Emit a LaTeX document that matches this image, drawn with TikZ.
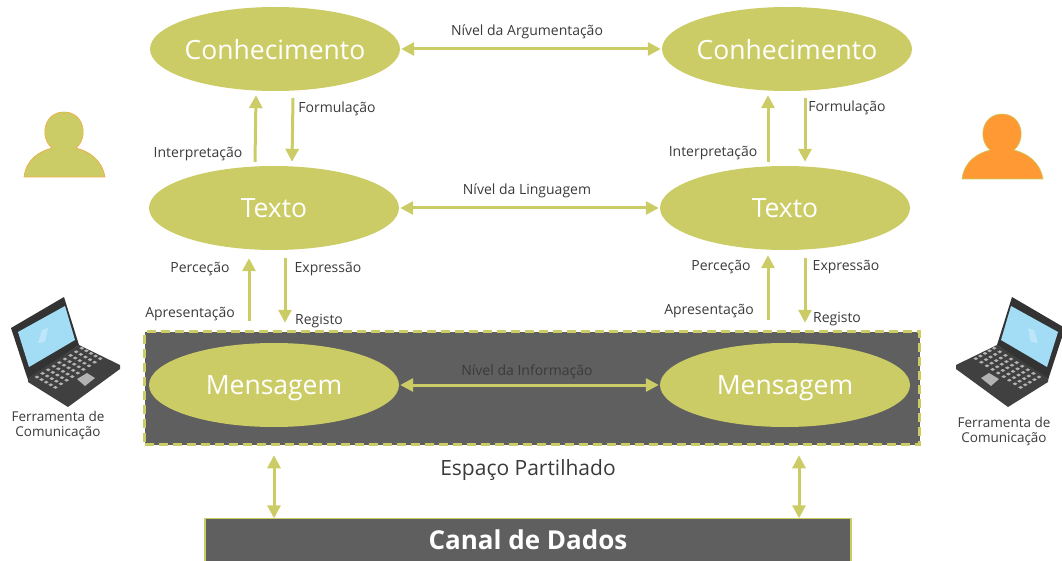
\documentclass[tikz,border=0pt]{standalone}
\usepackage{fontspec}
\setmainfont{Open Sans}
\usepackage{tikz}
\usetikzlibrary{arrows.meta, positioning, shapes.geometric}

\definecolor{oliva}{HTML}{CCCC66}
\definecolor{cinza}{HTML}{5F5F5F}
\definecolor{texto}{HTML}{3A3A3A}
\definecolor{laranja}{HTML}{FF9933}
\definecolor{ecra}{HTML}{A3DCF5}

\tikzset{
    nivel/.style={ellipse, fill=oliva, text=white, minimum width=250pt, minimum height=84pt, inner sep=-12pt, text depth=0pt, font=\fontsize{26.5}{26.5}\selectfont},
    etiqueta/.style={text=texto, inner sep=0pt, align=center, yshift=-1.5pt, font=\fontsize{14}{16}\selectfont},
    seta/.style={draw=oliva, line width=3pt, -{Triangle[length=13pt,width=13pt]}},
    setadupla/.style={draw=oliva, line width=3pt, {Triangle[length=13pt,width=13pt]}-{Triangle[length=13pt,width=13pt]}},
    tecla/.style={fill=black!30},
    pessoa/.pic={
        \path[pic actions] (-40,45) .. controls (-38,27) and (-24,19) .. (-12,16) .. controls (-25,5) and (-20,-20) .. (0,-20)
            .. controls (20,-20) and (25,5) .. (12,16) .. controls (24,19) and (38,27) .. (41,45) -- cycle;
    },
    portatil/.pic={
        \fill[black!80] (11,328) -- (64,297) -- (79,345) -- (28,380) -- cycle;
        \fill[ecra] (18,332) -- (65,306) -- (75,340) -- (29,367) -- cycle;
        \fill[white, opacity=.3] (42,330) -- (48,328) -- (45,342) -- (38,343) -- cycle;
        \fill[black!75] (28,378) -- (79,345) -- (120,365) -- (120,369) -- (68,407) -- (28,382) -- cycle;
        \foreach \i in {0,...,8}
            \foreach \j in {0,...,4}
                \fill[tecla] ({37+5.6*\i+4.6*\j},{377-3.6*\i+2.6*\j}) ++(-2.4,0) -- ++(2.4,-1.5) -- ++(2.4,1.5) -- ++(-2.4,1.5) -- cycle;
        \fill[tecla] (77,379) -- (87,373) -- (95,378) -- (85,386) -- cycle;
    },
}

\begin{document}
\begin{tikzpicture}[x=1pt, y=-1pt]
        \useasboundingbox (0,0) rectangle (1062,561);

        % areas de fundo
        \node[fill=cinza, draw=oliva, dash pattern=on 9pt off 5pt, line width=3.5pt, minimum width=775pt, minimum height=113pt, inner sep=0pt] (espaco) at (532,388) {};
        \node[fill=cinza, minimum width=646pt, minimum height=42pt, inner sep=0pt, text=white, font=\fontsize{26}{26}\selectfont\bfseries] (canal) at (528,539.5) {Canal de Dados};
        \draw[oliva, line width=1.5pt] (canal.south west) |- (canal.north east) -- (canal.south east);

        % os tres niveis
        \node[nivel] (conhecimento1) at (275,49) {Conhecimento};
        \node[nivel] (conhecimento2) at (787,49) {Conhecimento};
        \node[nivel] (texto1) at (274,208) {Texto};
        \node[nivel] (texto2) at (785,208) {Texto};
        \node[nivel] (mensagem1) at (274,385) {Mensagem};
        \node[nivel] (mensagem2) at (785,385) {Mensagem};

        \draw
        (conhecimento1) edge[setadupla, shorten >=1pt, shorten <=1pt] (conhecimento2)
        (texto1) edge[setadupla, shorten >=1pt, shorten <=1pt] (texto2)
        (mensagem1) edge[setadupla, shorten >=1pt, shorten <=1pt] (mensagem2)
        ([shift={(-19,-4)}]texto1.north) edge[seta] ([shift={(-19,4)}]conhecimento1.south)
        ([shift={(18,7)}]conhecimento1.south) edge[seta] ([shift={(18,-4)}]texto1.north)
        ([shift={(-17,-4)}]texto2.north) edge[seta] ([shift={(-19,4)}]conhecimento2.south)
        ([shift={(18,7)}]conhecimento2.south) edge[seta] ([shift={(20,-4)}]texto2.north)
        ([shift={(-25,-9)}]espaco.north -| mensagem1.north) edge[seta] ([shift={(-25,8)}]texto1.south)
        ([shift={(11,8)}]texto1.south) edge[seta] ([shift={(11,-7)}]espaco.north -| mensagem1.north)
        ([shift={(-17,-10)}]espaco.north -| mensagem2.north) edge[seta] ([shift={(-17,5)}]texto2.south)
        ([shift={(20,8)}]texto2.south) edge[seta] ([shift={(20,-7)}]espaco.north -| mensagem2.north)
        ([shift={(0,9)}]espaco.south -| mensagem1.south) edge[setadupla] (canal.north -| mensagem1.south)
        ([shift={(14,9)}]espaco.south -| mensagem2.south) edge[setadupla] ([xshift=14pt]canal.north -| mensagem2.south)
        ;

        % etiquetas
        \node[etiqueta] (argumentacao) at (527,30) {Nível da Argumentação};
        \node[etiqueta] (linguagem) at (527,189) {Nível da Linguagem};
        \node[etiqueta] (informacao) at (527,370) {Nível da Informação};
        \node[etiqueta, font=\fontsize{21}{21}\selectfont] (partilhado) at (528,469) {Espaço Partilhado};
        \node[etiqueta] (interpretacao1) at (198,153) {Interpretação};
        \node[etiqueta] (formulacao1) at (337,107) {Formulação};
        \node[etiqueta] (interpretacao2) at (713,152) {Interpretação};
        \node[etiqueta] (formulacao2) at (847,106) {Formulação};
        \node[etiqueta] (percecao1) at (200,268) {Perceção};
        \node[etiqueta] (expressao1) at (328,268) {Expressão};
        \node[etiqueta] (percecao2) at (721,266) {Perceção};
        \node[etiqueta] (expressao2) at (846,266) {Expressão};
        \node[etiqueta] (apresentacao1) at (190,313) {Apresentação};
        \node[etiqueta] (registo1) at (319,320) {Registo};
        \node[etiqueta] (apresentacao2) at (709,310) {Apresentação};
        \node[etiqueta] (registo2) at (837,318) {Registo};
        \node[etiqueta, font=\fontsize{13.5}{15.5}\selectfont] (ferramenta1) at (58,424) {Ferramenta de\\Comunicação};
        \node[etiqueta, font=\fontsize{13.5}{15.5}\selectfont] (ferramenta2) at (1004,430) {Ferramenta de\\Comunicação};

        % pessoas e computadores
        \pic[fill=oliva, draw=laranja!70!oliva, line width=.6pt] at (64,132) {pessoa};
        \pic[fill=laranja, draw=oliva, line width=.6pt] at (1002,134) {pessoa};
        \pic at (0,0) {portatil};
        \pic[xscale=-1] at (1076,0) {portatil};
    \end{tikzpicture}
\end{document}
